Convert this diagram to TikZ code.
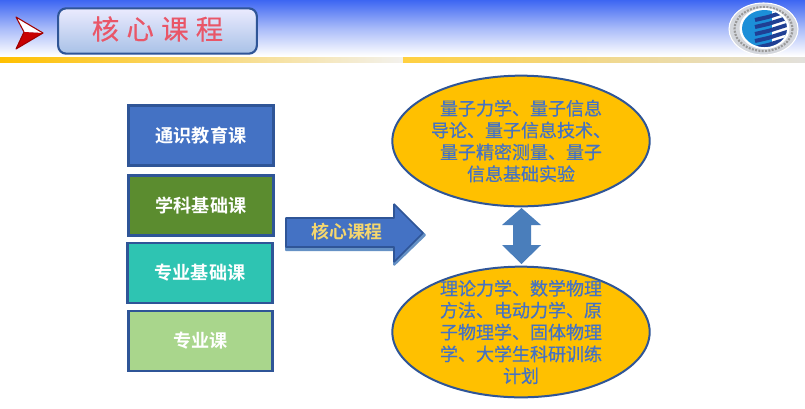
\documentclass[tikz,border=0pt]{standalone}
\usepackage{fontspec}
\setmainfont{Noto Sans CJK SC}
\newfontfamily\cjkbold{Noto Sans CJK SC Bold}
\newfontfamily\cjksemi[FakeBold=0.5]{Noto Sans CJK SC}
\usetikzlibrary{shapes.geometric}
\definecolor{edgeblue}{HTML}{2F5597}
\definecolor{fillblue}{HTML}{4472C4}
\definecolor{fillgreen}{HTML}{5B8C2F}
\definecolor{fillteal}{HTML}{2EC4B2}
\definecolor{filllime}{HTML}{A9D68C}
\definecolor{ovalfill}{HTML}{FFC000}
\definecolor{headblue}{HTML}{3D66F2}
\definecolor{titlered}{HTML}{E95668}
\definecolor{arrowtext}{HTML}{F5D76E}
\definecolor{dblarrow}{HTML}{4A7EBB}
\definecolor{iconred}{HTML}{C80000}
\definecolor{logoring}{HTML}{D3D6DC}
\definecolor{logonavy}{HTML}{1F3F94}
\definecolor{logodisc}{HTML}{1C8FD8}
\tikzset{
  x=0.75pt,y=-0.75pt,
  coursebox/.style={draw=edgeblue,line width=2pt,minimum width=109pt,minimum height=45pt,inner sep=0pt,text=white,font=\cjkbold\fontsize{13.6pt}{15pt}\selectfont},
  oval/.style={ellipse,draw=edgeblue,line width=1.5pt,fill=ovalfill,minimum width=193pt,minimum height=98pt,inner sep=0pt},
  ovaltext/.style={text=fillblue,align=center,font=\cjksemi\fontsize{13.5pt}{16.4pt}\selectfont,inner sep=0pt},
}
\begin{document}
\begin{tikzpicture}
\useasboundingbox (0,0) rectangle (805,408);
\fill[white] (0,0) rectangle (805,408);
% header
\shade[top color=headblue,bottom color=white,middle color=headblue!45!white] (0,0) rectangle (805,56);
\shade[left color=ovalfill,right color=ovalfill!18!gray!12!white] (0,57) rectangle (403,62);
\shade[left color=ovalfill!75!white,right color=ovalfill!10!gray!25!white] (403,57) rectangle (805,62);
% icon
\fill[white] (16,17) -- (43,33) -- (24,32) -- cycle;
\fill[iconred] (16,49) -- (43,33) -- (24,32) -- cycle;
\draw[iconred!80!black,line width=0.8pt,line join=round] (16,17) -- (43,33) -- (16,49) -- (24,32) -- cycle;
% title
\node[draw=edgeblue,line width=1.6pt,rounded corners=6pt,minimum width=149pt,minimum height=34pt,inner sep=0pt,top color=black!3!blue!8!white,bottom color=blue!35!cyan!8!fillblue!45!white] (title) at (157.5,31) {};
\node[text=titlered,font=\cjksemi\fontsize{20.5pt}{22pt}\selectfont,inner sep=0pt] (titletext) at (157.5,29) {核\hspace{5.5pt}心\hspace{5.5pt}课\hspace{5.5pt}程};
% logo
\fill[logoring] (763.5,29) ellipse (34.5 and 26);
\draw[white,line width=0.8pt] (763.5,29) ellipse (34.5 and 26);
\draw[black!40,line width=1.6pt,dash pattern=on 1.5pt off 1pt] (763.5,29) ellipse (29 and 22);
\fill[white] (764.5,28.5) ellipse (25 and 20.5);
\fill[logodisc] (764.5,28.5) ellipse (22.5 and 18.5);
\begin{scope}
\clip (764.5,28.5) ellipse (22.5 and 18.5);
\fill[white] (772,5) rectangle (795,55);
\foreach \yy in {17,24,31,38,45} {
  \draw[logonavy,line width=3pt] (755,\yy+3) -- (768,\yy) -- (790,\yy-7);
}
\end{scope}
% course boxes
\node[coursebox,fill=fillblue] (general) at (201,135.5) {通识教育课};
\node[coursebox,fill=fillgreen] (subject) at (201,205.5) {学科基础课};
\node[coursebox,fill=fillteal] (major) at (200,273) {专业基础课};
\node[coursebox,fill=filllime,minimum width=108pt] (elective) at (200.5,341) {专业课};
% main arrow
\draw[dblarrow!85!white,line width=1.5pt,line join=bevel,fill=dblarrow!85!white] (286,221) -- (394,221) -- (394,207) -- (425,235) -- (394,265) -- (394,250) -- (286,250) -- cycle;
\draw[edgeblue,line width=1.2pt,fill=fillblue,line join=bevel] (286,218) -- (394,218) -- (394,204) -- (423,233) -- (394,262) -- (394,247) -- (286,247) -- cycle;
\node[text=arrowtext,inner sep=0pt,font=\cjkbold\fontsize{13.4pt}{15pt}\selectfont] (arrowtext) at (347,232) {核心课程};
% ovals
\node[oval] (topoval) at (521,141) {};
\node[oval] (bottomoval) at (521,332) {};
\node[ovaltext] (toptext) at (521,141) {量子力学、量子信息\\导论、量子信息技术、\\量子精密测量、量子\\信息基础实验};
\node[ovaltext] (bottomtext) at (521,332) {理论力学、数学物理\\方法、电动力学、原\\子物理学、固体物理\\学、大学生科研训练\\计划};
% double arrow
\fill[dblarrow] (521.5,208) -- (541,225) -- (531,225) -- (531,245) -- (541,245) -- (521.5,264) -- (502,245) -- (513,245) -- (513,225) -- (502,225) -- cycle;
\end{tikzpicture}
\end{document}
